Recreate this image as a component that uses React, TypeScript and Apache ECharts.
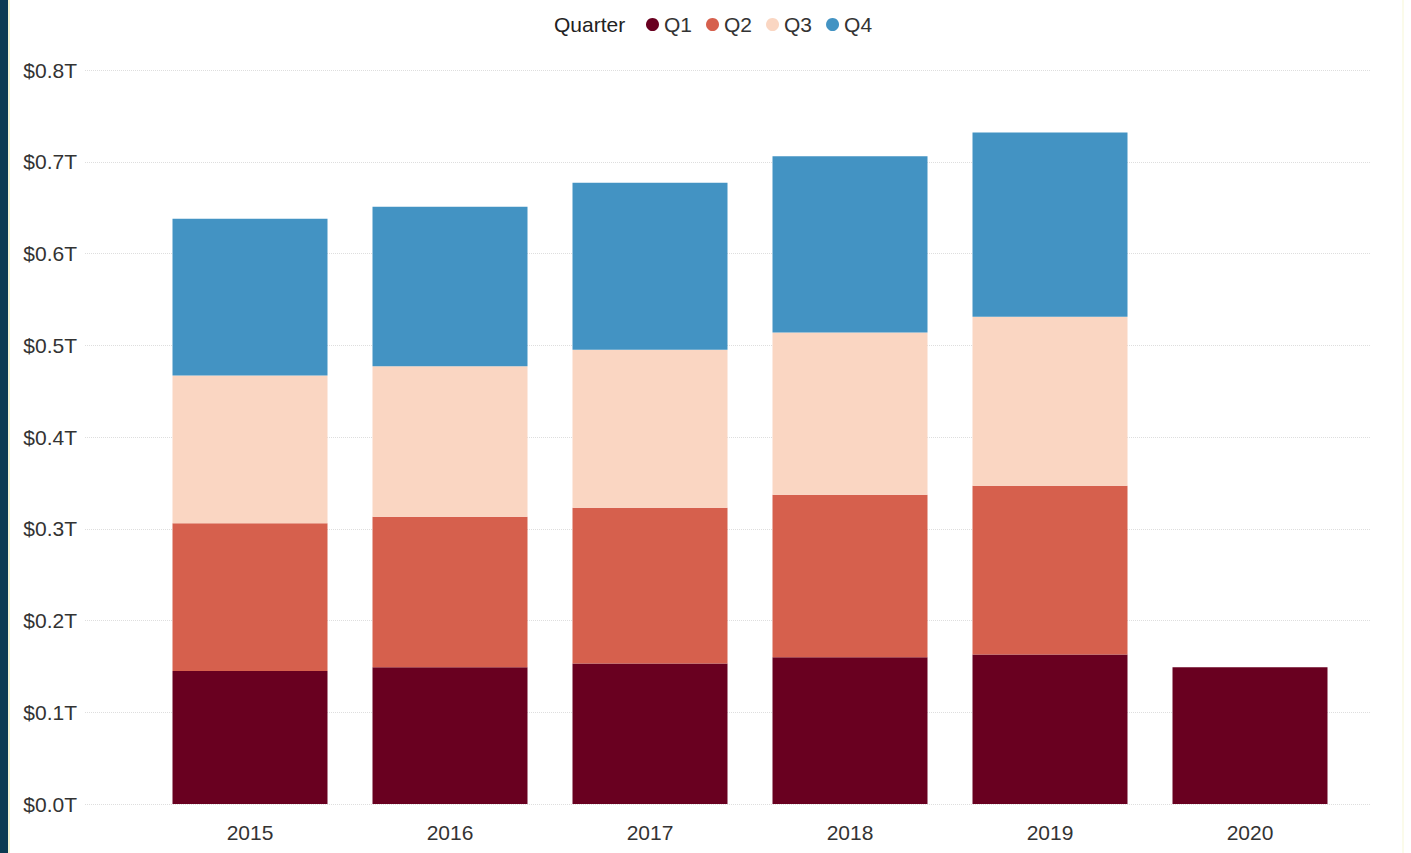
import React, { useEffect, useRef } from "react";
import * as echarts from "echarts";

const years = ["2015", "2016", "2017", "2018", "2019", "2020"];
const quarters = ["Q1", "Q2", "Q3", "Q4"];
const q1 = [0.145, 0.149, 0.153, 0.160, 0.163, 0.149];
const q2 = [0.161, 0.164, 0.170, 0.177, 0.184, null];
const q3 = [0.161, 0.164, 0.172, 0.177, 0.184, null];
const q4 = [0.171, 0.174, 0.182, 0.192, 0.201, null];
const colors = ["#690020", "#d6604d", "#fad6c2", "#4393c3"];
const yTicks = [0, 0.1, 0.2, 0.3, 0.4, 0.5, 0.6, 0.7, 0.8];

export default function App() {
  const ref = useRef<HTMLDivElement>(null);
  useEffect(() => {
    if (!ref.current) return;
    const chart = echarts.init(ref.current, undefined, { renderer: "svg" });
    const font = "'Liberation Sans', Arial, sans-serif";
    const seriesData = [q1, q2, q3, q4];
    chart.setOption({
      animation: false,
      backgroundColor: "#ffffff",
      textStyle: { fontFamily: font },
      graphic: [
        { type: "rect", left: 0, top: 0, shape: { width: 8, height: 853 }, style: { fill: "#0b3b52" } },
        { type: "rect", left: 8, top: 0, shape: { width: 2, height: 853 }, style: { fill: "#f3f3d2" } },
        { type: "rect", left: 1402, top: 0, shape: { width: 2, height: 853 }, style: { fill: "#fbfbea" } },
        {
          type: "text",
          left: 554,
          top: 14,
          style: { text: "Quarter", fill: "#222222", font: `21px ${font}` },
        },
      ],
      legend: {
        data: quarters,
        left: 646,
        top: 14,
        icon: "circle",
        itemWidth: 13,
        itemHeight: 13,
        itemGap: 14,
        padding: 0,
        textStyle: { fontSize: 21, color: "#333333", fontFamily: font },
      },
      grid: [
        { left: 85, right: 41, top: 70, bottom: 49 },
        { left: 150, right: 61, top: 70, bottom: 49 },
      ],
      xAxis: [
        { type: "category", gridIndex: 0, data: years, show: false },
        {
          type: "category",
          gridIndex: 1,
          data: years,
          axisLine: { show: false },
          axisTick: { show: false },
          axisLabel: { color: "#333333", fontSize: 21, margin: 18, fontFamily: font },
        },
      ],
      yAxis: [
        {
          type: "value",
          gridIndex: 0,
          min: 0,
          max: 0.8,
          interval: 0.1,
          axisLine: { show: false },
          axisTick: { show: false },
          splitLine: { show: true, lineStyle: { type: "dotted", color: "#dedede", width: 1 } },
          axisLabel: {
            color: "#333333",
            fontSize: 21,
            margin: 8,
            fontFamily: font,
            formatter: (v: number) => {
              const t = yTicks.find((x) => Math.abs(x - v) < 1e-6);
              return "$" + (t ?? v).toFixed(1) + "T";
            },
          },
        },
        {
          type: "value",
          gridIndex: 1,
          min: 0,
          max: 0.8,
          interval: 0.1,
          show: false,
          splitLine: { show: false },
        },
      ],
      series: quarters.map((q, i) => ({
        name: q,
        type: "bar",
        stack: "total",
        xAxisIndex: 1,
        yAxisIndex: 1,
        barWidth: "77.5%",
        itemStyle: { color: colors[i] },
        data: seriesData[i],
      })),
    });
    return () => chart.dispose();
  }, []);
  return (
    <div
      ref={ref}
      style={{ position: "absolute", left: 0, top: 0, width: 1411, height: 853 }}
    />
  );
}
